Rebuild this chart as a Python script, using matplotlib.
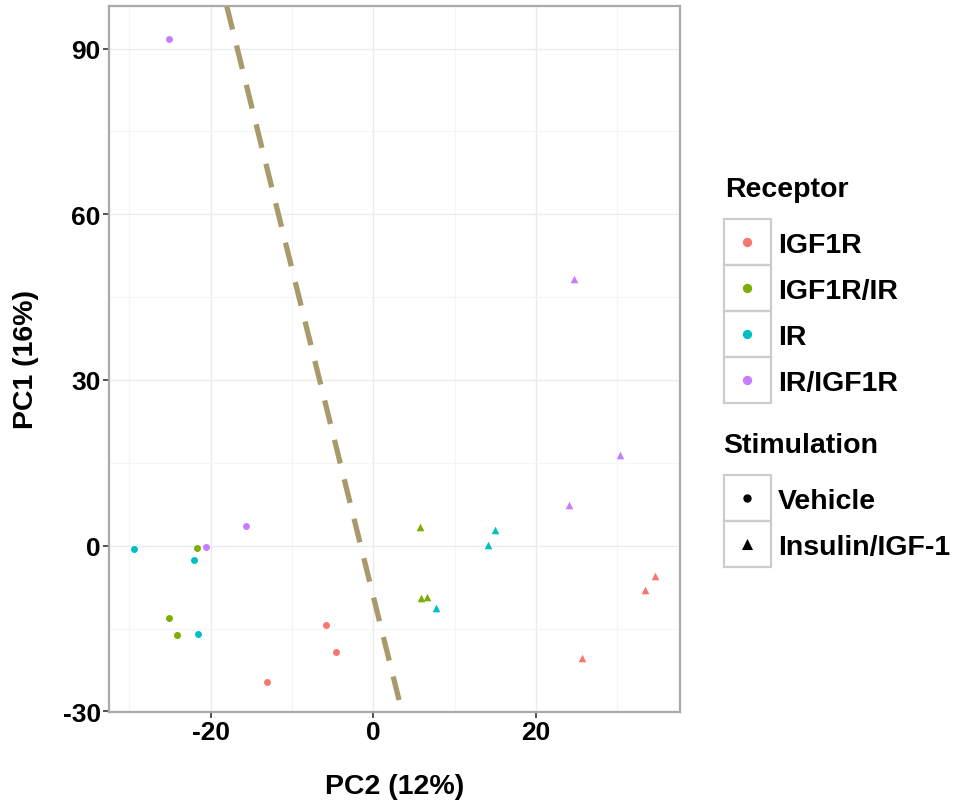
import numpy as np
import matplotlib
matplotlib.use('Agg')
import matplotlib.pyplot as plt
from matplotlib.patches import Rectangle

plt.rcParams['font.family'] = ['Liberation Sans', 'DejaVu Sans']
plt.rcParams['font.weight'] = 'bold'
plt.rcParams['axes.unicode_minus'] = False

# receptor groups and colours (ggplot defaults)
receptors = ['IGF1R', 'IGF1R/IR', 'IR', 'IR/IGF1R']
rec_colors = ['#F8766D', '#7CAE00', '#00BFC4', '#C77CFF']
stimulations = ['Vehicle', 'Insulin/IGF-1']
stim_markers = ['o', '^']

# PCA scores, per receptor, per stimulation
pc2 = {
    ('IGF1R', 'Vehicle'): [-5.8, -4.6, -13.1],
    ('IGF1R/IR', 'Vehicle'): [-21.7, -25.1, -24.2],
    ('IR', 'Vehicle'): [-29.4, -22.1, -21.5],
    ('IR/IGF1R', 'Vehicle'): [-20.6, -15.6, -25.1],
    ('IGF1R', 'Insulin/IGF-1'): [34.6, 33.4, 25.6],
    ('IGF1R/IR', 'Insulin/IGF-1'): [5.7, 5.9, 6.6],
    ('IR', 'Insulin/IGF-1'): [14.9, 14.1, 7.7],
    ('IR/IGF1R', 'Insulin/IGF-1'): [30.3, 24.0, 24.7],
}
pc1 = {
    ('IGF1R', 'Vehicle'): [-14.4, -19.2, -24.6],
    ('IGF1R/IR', 'Vehicle'): [-0.4, -13.0, -16.2],
    ('IR', 'Vehicle'): [-0.65, -2.5, -15.9],
    ('IR/IGF1R', 'Vehicle'): [-0.2, 3.5, 91.8],
    ('IGF1R', 'Insulin/IGF-1'): [-5.4, -8.0, -20.3],
    ('IGF1R/IR', 'Insulin/IGF-1'): [3.3, -9.4, -9.3],
    ('IR', 'Insulin/IGF-1'): [2.8, 0.1, -11.3],
    ('IR/IGF1R', 'Insulin/IGF-1'): [16.5, 7.4, 48.2],
}

# separating line
line_slope = -5.93
line_intercept = -9.2

xticks = [-20, 0, 20]
yticks = [-30, 0, 30, 60, 90]

fig = plt.figure(figsize=(9.56, 8.03), dpi=100)
W, H = 956, 803
ax = fig.add_axes([109 / W, 1 - 713 / H, (680 - 109) / W, (713 - 7) / H])

ax.set_xlim(-32.5, 37.7)
ax.set_ylim(-30.1, 97.7)
ax.set_xticks(xticks)
ax.set_yticks(yticks)
ax.set_xticks([-30, -10, 10, 30], minor=True)
ax.set_yticks([-15, 15, 45, 75], minor=True)
ax.grid(which='major', color='#EBEBEB', lw=1.0)
ax.grid(which='minor', color='#F5F5F5', lw=0.8)
ax.set_axisbelow(True)
ax.tick_params(which='minor', length=0)
ax.tick_params(which='major', length=4, width=1.2, color='#333333', pad=2,
               labelsize=19)
for s in ax.spines.values():
    s.set_color('#AAAAAA')
    s.set_linewidth(1.6)

for r, col in zip(receptors, rec_colors):
    for st, mk in zip(stimulations, stim_markers):
        ax.scatter(pc2[(r, st)], pc1[(r, st)], marker=mk, color=col,
                   s=25 if mk == 'o' else 30, linewidths=0, zorder=3)

ax.axline((0, line_intercept), slope=line_slope, color='#A89A6A', lw=3.8,
          ls=(0, (4.6, 3.1)), solid_capstyle='butt', dash_capstyle='butt', zorder=2)

ax.set_xlabel('PC2 (12%)', fontsize=20.5, fontweight='bold', labelpad=21)
ax.set_ylabel('PC1 (16%)', fontsize=20.5, fontweight='bold', labelpad=17)

# legend drawn in pixel coordinates
lax = fig.add_axes([0, 0, 1, 1], zorder=5)
lax.set_xlim(0, W)
lax.set_ylim(H, 0)
lax.axis('off')
lax.patch.set_alpha(0)

box_x, box_w, row_h = 724, 47, 46.2

lax.text(725, 197, 'Receptor', fontsize=20.5, fontweight='bold', va='baseline', ha='left')
top = 219.5
for i, (r, col) in enumerate(zip(receptors, rec_colors)):
    y0 = top + i * row_h
    lax.add_patch(Rectangle((box_x, y0), box_w, row_h, fill=False,
                            ec='#CCCCCC', lw=1.6))
    lax.scatter([box_x + box_w / 2], [y0 + row_h / 2], s=45, color=col,
                linewidths=0)
    lax.text(778, y0 + row_h / 2, r, fontsize=20.5, fontweight='bold',
             va='center_baseline', ha='left')

lax.text(723, 453, 'Stimulation', fontsize=20.5, fontweight='bold', va='baseline', ha='left')
top = 476
for i, (st, mk) in enumerate(zip(stimulations, stim_markers)):
    y0 = top + i * row_h
    lax.add_patch(Rectangle((box_x, y0), box_w, row_h, fill=False,
                            ec='#CCCCCC', lw=1.6))
    lax.scatter([box_x + box_w / 2], [y0 + row_h / 2], s=36 if mk == 'o' else 64,
                marker=mk, color='black', linewidths=0)
    lax.text(778, y0 + row_h / 2, st, fontsize=20.5, fontweight='bold',
             va='center_baseline', ha='left')

fig.savefig('out.png', dpi=100)
